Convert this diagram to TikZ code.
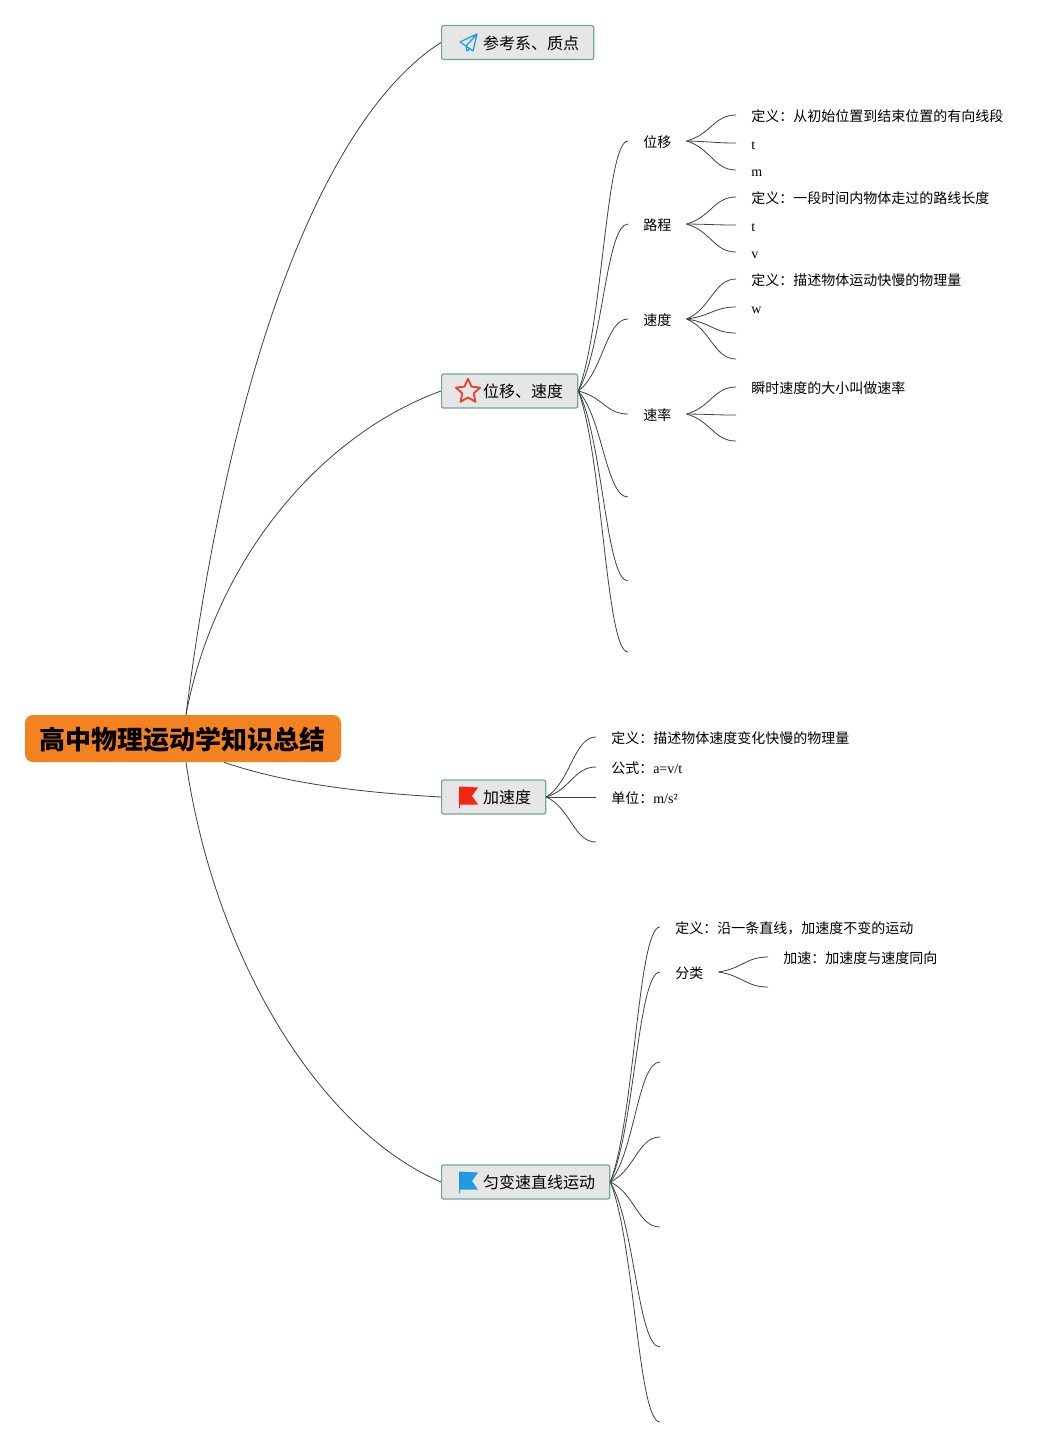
\documentclass[tikz,border=0pt]{standalone}
\usepackage{fontspec}
\setmainfont{Noto Sans CJK SC}
\newfontfamily\lat{Liberation Serif}
\usetikzlibrary{calc,shapes.geometric}

\definecolor{rootfill}{HTML}{F58220}
\definecolor{topicfill}{HTML}{E5E6E5}
\definecolor{topicline}{HTML}{6FA898}
\definecolor{flagred}{HTML}{F5260F}
\definecolor{flagblue}{HTML}{1E9BE0}
\definecolor{starred}{HTML}{E8432F}

\tikzset{
    link/.style={draw=black!75,line width=0.6pt},
    rootbox/.style={fill=rootfill,rounded corners=6pt,minimum width=237pt,minimum height=35.25pt,inner sep=0pt,
        text height=17.5pt,text depth=0.7pt,font=\fontsize{19.5}{22}\selectfont\bfseries},
    topic/.style={fill=topicfill,draw=topicline,line width=0.9pt,rounded corners=1.5pt,anchor=west,minimum height=25.5pt,
        inner ysep=0pt,inner xsep=10.9pt,text height=10.4pt,text depth=0pt,font=\fontsize{12}{14}\selectfont},
    leaf/.style={anchor=west,inner ysep=0pt,inner xsep=11.25pt,text height=10pt,text depth=0.8pt,
        font=\fontsize{10.5}{12}\selectfont},
}
\newcommand{\gapicon}{\hspace{20.25pt}}
\newcommand{\link}[2]{\draw[link] (#1) .. controls ($(#1)!.25!(#2)+(12,0)$) and ($(#2)+(-22,0)$) .. (#2);}

\begin{document}
\begin{tikzpicture}[x=0.75pt,y=-0.75pt]
    \useasboundingbox (0,0) rectangle (1063,1447);

    % root and main topics
    \node[rootbox] (root) at (183,738.5) {高中物理运动学知识总结};
    \node[topic] (frame) at (441,42.5) {\gapicon 参考系、质点};
    \node[topic] (disp) at (441,391) {\gapicon 位移、速度};
    \node[topic] (accel) at (441,797) {\gapicon 加速度};
    \node[topic] (uniform) at (441,1182) {\gapicon 匀变速直线运动};

    \draw[link] ([xshift=2.25pt]root.north) .. controls (235,330) and (335,110) .. (frame.west);
    \draw[link] ([xshift=2.25pt]root.north) .. controls (215,560) and (320,435) .. (disp.west);
    \draw[link] ([xshift=30.75pt]root.south) .. controls (290,785) and (370,793) .. (accel.west);
    \draw[link] ([xshift=2.25pt]root.south) .. controls (215,960) and (320,1130) .. (uniform.west);

    % icons
    \draw[flagblue,line width=0.9pt,line join=round] (477,34) -- (460,42) -- (466,46) -- (473,51) -- cycle
        (477,34) -- (466,46) -- (467,51) -- (470,48.5);
    \node[star,star points=5,star point ratio=2.1,draw=starred,line width=1.4pt,line join=round,minimum size=19pt,inner sep=0pt] (starmark) at (468,391.5) {};
    \fill[flagred] (459,786.5) -- (478,787.5) -- (472,796) -- (478,804.5) -- (460.2,804.5) -- (460.2,808) -- (459,808) -- cycle;
    \fill[flagblue] (459,1171.5) -- (478,1172.5) -- (472,1181) -- (478,1189.5) -- (460.2,1189.5) -- (460.2,1193) -- (459,1193) -- cycle;

    % disp branch
    \node[leaf] (wy) at (628,141) {位移};
    \node[leaf] (lc) at (628,224) {路程};
    \node[leaf] (sd) at (628,319) {速度};
    \node[leaf] (sl) at (628,414) {速率};
    \coordinate (d5) at (628,497);
    \coordinate (d6) at (628,581);
    \coordinate (d7) at (628,652);
    \foreach \tgt in {wy.west,lc.west,sd.west,sl.west,d5,d6,d7}
        {\link{disp.east}{\tgt}}

    \node[leaf] (wy1) at (736,115) {定义：从初始位置到结束位置的有向线段};
    \node[leaf] (wy2) at (736,143) {\lat t};
    \node[leaf] (wy3) at (736,170) {\lat m};
    \node[leaf] (lc1) at (736,197) {定义：一段时间内物体走过的路线长度};
    \node[leaf] (lc2) at (736,225) {\lat t};
    \node[leaf] (lc3) at (736,252) {\lat v};
    \node[leaf] (sd1) at (736,279) {定义：描述物体运动快慢的物理量};
    \node[leaf] (sd2) at (736,307) {\lat w};
    \coordinate (sd3) at (736,333);
    \coordinate (sd4) at (736,359);
    \node[leaf] (sl1) at (736,387) {瞬时速度的大小叫做速率};
    \coordinate (sl2) at (736,415);
    \coordinate (sl3) at (736,441);
    \foreach \src/\tgt in {wy/wy1.west,wy/wy2.west,wy/wy3.west,lc/lc1.west,lc/lc2.west,lc/lc3.west,
        sd/sd1.west,sd/sd2.west,sd/sd3,sd/sd4,sl/sl1.west,sl/sl2,sl/sl3}
        {\link{\src.east}{\tgt}}

    % accel branch
    \node[leaf] (ac1) at (596,737) {定义：描述物体速度变化快慢的物理量};
    \node[leaf] (ac2) at (596,767) {公式：{\lat a=v/t}};
    \node[leaf] (ac3) at (596,797) {单位：{\lat m/s²}};
    \coordinate (ac4) at (596,842);
    \foreach \tgt in {ac1.west,ac2.west,ac3.west,ac4}
        {\link{accel.east}{\tgt}}

    % uniform branch
    \node[leaf] (un1) at (660,927) {定义：沿一条直线，加速度不变的运动};
    \node[leaf] (un2) at (660,972) {分类};
    \coordinate (un3) at (660,1062);
    \coordinate (un4) at (660,1137);
    \coordinate (un5) at (660,1227);
    \coordinate (un6) at (660,1347);
    \coordinate (un7) at (660,1422);
    \foreach \tgt in {un1.west,un2.west,un3,un4,un5,un6,un7}
        {\link{uniform.east}{\tgt}}

    \node[leaf] (fl1) at (768,957) {加速：加速度与速度同向};
    \coordinate (fl2) at (768,987);
    \foreach \tgt in {fl1.west,fl2}
        {\link{un2.east}{\tgt}}
\end{tikzpicture}
\end{document}
